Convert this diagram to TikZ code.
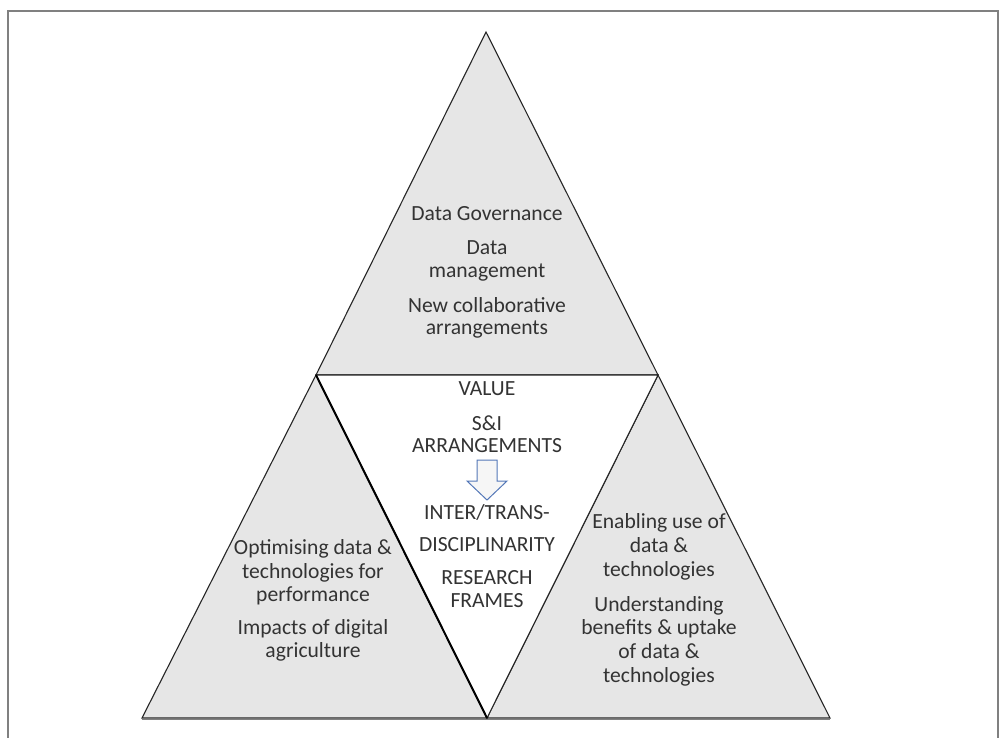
\documentclass[tikz,border=0pt]{standalone}
\usepackage{fontspec}
\setmainfont{Carlito}
\definecolor{txt}{rgb}{0.2,0.2,0.2}
\definecolor{arrowblue}{rgb}{0.33,0.47,0.72}
\definecolor{tri}{rgb}{0.902,0.902,0.902}
\definecolor{frame}{rgb}{0.5,0.5,0.5}
\begin{document}
\begin{tikzpicture}[x=1pt,y=-1pt,
  lbl/.style={text=txt,font=\fontsize{21.6pt}{22pt}\selectfont,inner sep=0pt,text height=15pt,text depth=4pt,anchor=center},
  tribox/.style={fill=tri,draw=black!85,line width=1.1pt,line join=miter},
  frameline/.style={draw=frame,line width=2.2pt}]
\useasboundingbox (0,0) rectangle (1000,737);
% frame
\draw[frameline] (8,745) -- (8,11) -- (998,11) -- (998,745);
% key points
\coordinate (A) at (486,32);
\coordinate (L) at (316,375);
\coordinate (R) at (658,375);
\coordinate (BL) at (142,718);
\coordinate (BM) at (487,718);
\coordinate (BR) at (830,718);
% bottom shadow
\draw[gray,line width=1.2pt] ([yshift=-1.6pt]BL) -- ([yshift=-1.6pt]BR);
% triangles
\draw[tribox] (A) -- (R) -- (L) -- cycle;
\draw[tribox] (L) -- (BM) -- (BL) -- cycle;
\draw[tribox] (R) -- (BR) -- (BM) -- cycle;
\draw[fill=white,draw=black!85,line width=1.1pt] (L) -- (R) -- (BM) -- cycle;
\draw[black,line width=2pt] (L) -- (BM);
% arrow
\draw[draw=arrowblue,fill=gray!7,line width=1pt,line join=miter]
  (477,460) -- (497,460) -- (497,481) -- (507,481) -- (487,500) -- (467,481) -- (477,481) -- cycle;
% top texts
\node[lbl] (t1) at (487,215) {Data Governance};
\node[lbl] (t2) at (487,249) {Data};
\node[lbl] (t3) at (487,272) {management};
\node[lbl] (t4) at (487,307) {New collaborative};
\node[lbl] (t5) at (487,329) {arrangements};
% centre texts
\node[lbl] (c1) at (487,390) {VALUE};
\node[lbl] (c2) at (487,425) {S\&I};
\node[lbl] (c3) at (487,447) {ARRANGEMENTS};
\node[lbl] (c4) at (487,514) {INTER/TRANS-};
\node[lbl] (c5) at (487,546) {DISCIPLINARITY};
\node[lbl] (c6) at (487,579) {RESEARCH};
\node[lbl] (c7) at (487,602) {FRAMES};
% left texts
\node[lbl] (l1) at (313,549) {Optimising data \&};
\node[lbl] (l2) at (313,573) {technologies for};
\node[lbl] (l3) at (313,596) {performance};
\node[lbl] (l4) at (313,629) {Impacts of digital};
\node[lbl] (l5) at (313,652) {agriculture};
% right texts
\node[lbl] (r1) at (659,523) {Enabling use of};
\node[lbl] (r2) at (659,547) {data \&};
\node[lbl] (r3) at (659,571) {technologies};
\node[lbl] (r4) at (659,606) {Understanding};
\node[lbl] (r5) at (659,629) {benefits \& uptake};
\node[lbl] (r6) at (659,653) {of data \&};
\node[lbl] (r7) at (659,677) {technologies};
\end{tikzpicture}
\end{document}
